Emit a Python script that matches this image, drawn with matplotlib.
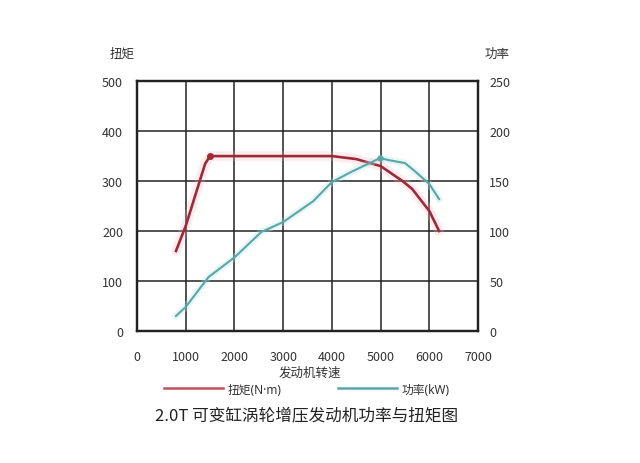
import matplotlib.pyplot as plt
from matplotlib.lines import Line2D

plt.rcParams['font.family'] = ['Noto Sans CJK SC', 'DejaVu Sans']

# engine speed (rpm) / torque (N·m)
torque_rpm = [800, 1000, 1400, 1500, 4000, 4500, 5000, 5450, 5650, 6000, 6200]
torque = [160, 210, 335, 350, 350, 344, 330, 300, 284, 240, 200]

# engine speed (rpm) / power (kW)
power_rpm = [800, 1000, 1470, 2010, 2550, 3000, 3620, 4000, 4430, 4990, 5160, 5500, 5700, 6000, 6200]
power = [15, 24, 54, 74, 99, 109, 130, 149, 160, 173, 171, 168, 160, 147, 132]

x_ticks = [0, 1000, 2000, 3000, 4000, 5000, 6000, 7000]
torque_ticks = [0, 100, 200, 300, 400, 500]
power_ticks = [0, 50, 100, 150, 200, 250]

torque_color = '#9c2a38'
power_color = '#5aa6a8'

fig = plt.figure(figsize=(6.4, 4.64), dpi=100)
ax = fig.add_axes([0.214, 0.2845, 0.533, 0.5385])
ax2 = ax.twinx()

ax.set_xlim(0, 7000)
ax.set_ylim(0, 500)
ax2.set_ylim(0, 250)
ax.set_xticks(x_ticks)
ax.set_yticks(torque_ticks)
ax2.set_yticks(power_ticks)

ax.grid(True, color='#222222', linewidth=1.1)
ax.set_axisbelow(True)
for a in (ax, ax2):
    for s in a.spines.values():
        s.set_color('#222222')
        s.set_linewidth(1.6)

ax.tick_params(axis='x', length=0, pad=14, labelsize=9, labelcolor='#333333')
ax.tick_params(axis='y', length=0, pad=10, labelsize=9, labelcolor='#333333')
ax2.tick_params(axis='y', length=0, pad=8, labelsize=9, labelcolor='#333333')

# torque line with soft glow
ax.plot(torque_rpm, torque, color='#f8b4bb', linewidth=7, alpha=0.25, solid_capstyle='round')
ax.plot(torque_rpm, torque, color=torque_color, linewidth=1.9, zorder=3)
ax.plot([torque_rpm[3]], [torque[3]], 'o', color=torque_color, markersize=4, zorder=4)

ax2.plot(power_rpm, power, color='#b4e4e4', linewidth=5, alpha=0.3)
ax2.plot(power_rpm, power, color=power_color, linewidth=1.5, zorder=3)
ax2.plot([power_rpm[9]], [power[9]], 'o', color=power_color, markersize=3.5, zorder=4)

fig.text(122 / 640, 1 - 54 / 464, '扭矩', ha='center', va='center', fontsize=9, color='#333333')
fig.text(497 / 640, 1 - 54 / 464, '功率', ha='center', va='center', fontsize=9, color='#333333')
fig.text(310 / 640, 1 - 373 / 464, '发动机转速', ha='center', va='center', fontsize=9, color='#333333')

handles = [Line2D([], [], color='#c0505a', linewidth=1.8),
           Line2D([], [], color=power_color, linewidth=1.8)]
fig.legend(handles, ['扭矩(N·m)', '功率(kW)'], ncol=2, frameon=False,
           loc='center', bbox_to_anchor=(307 / 640, 1 - 390 / 464),
           prop={'family': ['Noto Sans', 'Noto Sans CJK SC'], 'size': 8.5},
           handlelength=5, handletextpad=0.4, columnspacing=4.8,
           labelcolor='#333333')

fig.text(307 / 640, 1 - 416 / 464, '2.0T 可变缸涡轮增压发动机功率与扭矩图',
         ha='center', va='center', fontsize=12, color='#222222')

fig.savefig('out.png', dpi=100)
